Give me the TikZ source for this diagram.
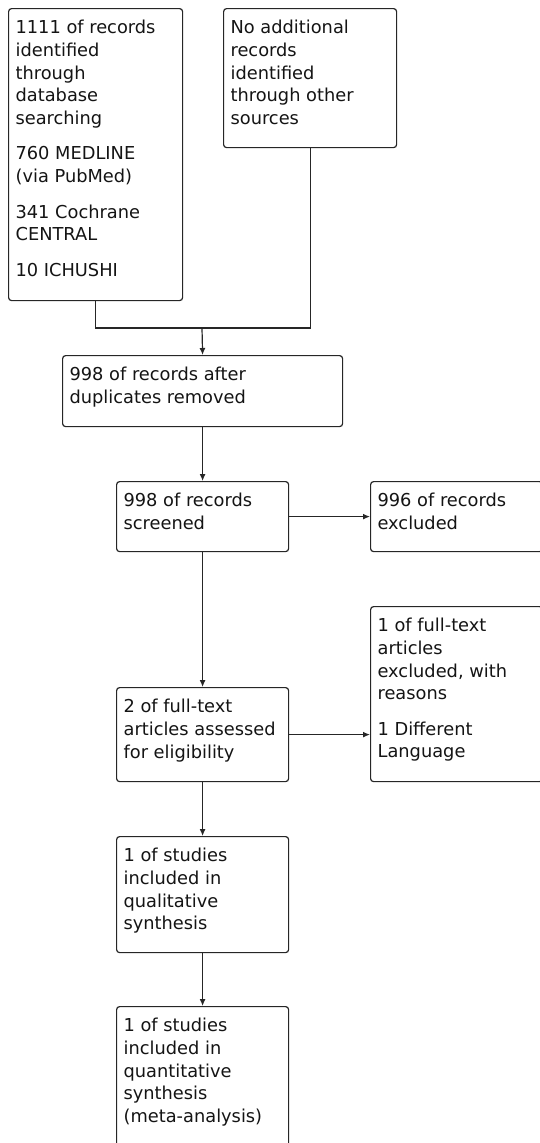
\documentclass[tikz,border=0pt]{standalone}
\usepackage{fontspec}
\setmainfont{DejaVu Sans}
\usetikzlibrary{arrows.meta}
\newcommand{\boxtext}[3]{\parbox[t][#2pt][t]{#1pt}{\raggedright\rule{0pt}{25pt}#3}}
\tikzset{
  flowbox/.style={draw=black!85, line width=1.2pt, rounded corners=3pt, anchor=north west,
    inner xsep=7pt, inner ysep=0pt, text=black!92,
    font=\fontsize{17.8}{22.7}\selectfont},
  link/.style={draw=black!85, line width=1.2pt},
  arr/.style={link, -{Latex[length=7pt,width=6pt]}},
}
\begin{document}
\begin{tikzpicture}[x=1pt,y=-1pt]
\useasboundingbox (0,0) rectangle (540,1143);
\node[flowbox] (A) at (8,8) {\boxtext{160}{292}{1111 of records\\identified\\through\\database\\searching\\[12.8pt]760 MEDLINE\\(via PubMed)\\[12.8pt]341 Cochrane\\CENTRAL\\[12.8pt]10 ICHUSHI}};
\node[flowbox] (B) at (223,8) {\boxtext{159}{139}{No additional\\records\\identified\\through other\\sources}};
\node[flowbox] (C) at (62,355) {\boxtext{266}{71}{998 of records after\\duplicates removed}};
\node[flowbox] (D) at (116,481) {\boxtext{158}{70}{998 of records\\screened}};
\node[flowbox] (E) at (370,481) {\boxtext{158}{70}{996 of records\\excluded}};
\node[flowbox] (F) at (370,606) {\boxtext{158}{175}{1 of full-text\\articles\\excluded, with\\reasons\\[12.8pt]1 Different\\Language}};
\node[flowbox] (G) at (116,687) {\boxtext{158}{94}{2 of full-text\\articles assessed\\for eligibility}};
\node[flowbox] (H) at (116,836) {\boxtext{158}{116}{1 of studies\\included in\\qualitative\\synthesis}};
\node[flowbox] (I) at (116,1006) {\boxtext{158}{145}{1 of studies\\included in\\quantitative\\synthesis\\(meta-analysis)}};
\coordinate (J) at (202,328);
\draw[link] (A.south) |- (J);
\draw[link] (B.south) |- (J);
\draw[arr] (J) -- (C.north);
\draw[arr] (C.south) -- (D.north);
\draw[arr] (D.east) -- (E.west);
\draw[arr] (D.south) -- (G.north);
\draw[arr] (G.east) -- (G.east -| F.west);
\draw[arr] (G.south) -- (H.north);
\draw[arr] (H.south) -- (I.north);
\end{tikzpicture}
\end{document}
